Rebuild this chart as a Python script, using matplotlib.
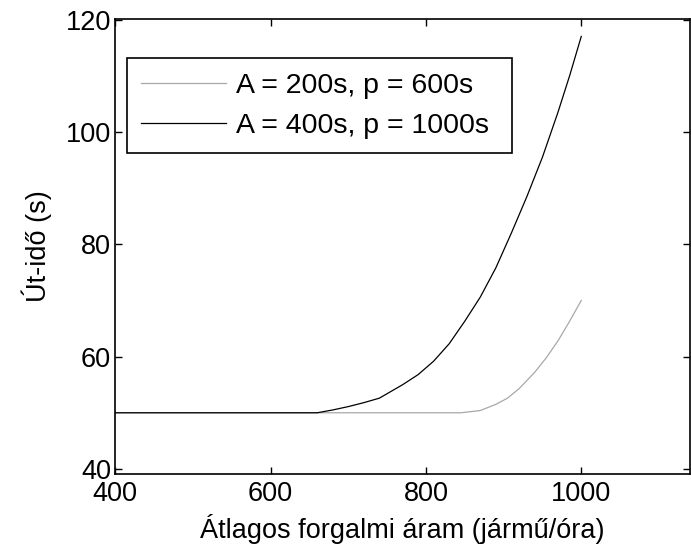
import matplotlib.pyplot as plt

plt.rcParams['font.family'] = ['Liberation Sans', 'DejaVu Sans']

# A = 200s, p = 600s (szürke)
x_200 = [400, 845, 870, 890, 905, 920, 940, 955, 970, 985, 1000]
y_200 = [50, 50, 50.4, 51.5, 52.6, 54.3, 57.2, 59.8, 62.8, 66.3, 70.0]

# A = 400s, p = 1000s (fekete)
x_400 = [400, 660, 680, 700, 720, 740, 770, 790, 810, 830, 850, 870, 890,
         910, 930, 950, 970, 985, 1000]
y_400 = [50, 50, 50.5, 51.1, 51.8, 52.6, 55.0, 56.8, 59.2, 62.3, 66.3, 70.6,
         75.8, 82.0, 88.5, 95.5, 103.5, 110.0, 117.0]

labels = ['A = 200s, p = 600s', 'A = 400s, p = 1000s']
xticks = [400, 600, 800, 1000]
yticks = [40, 60, 80, 100, 120]

fs = 19.5

fig = plt.figure(figsize=(6.91, 5.54), dpi=100)
ax = fig.add_axes([115.3 / 691, 1 - 474 / 554, (690 - 115.3) / 691, (474 - 19) / 554])

ax.plot(x_200, y_200, color='#a8a8a8', lw=0.9, label=labels[0])
ax.plot(x_400, y_400, color='black', lw=0.9, label=labels[1])

ax.set_xlim(400, 1140)
ax.set_ylim(39.1, 120.1)
ax.set_xticks(xticks)
ax.set_yticks(yticks)
ax.tick_params(direction='in', length=5, width=1, top=True, right=True,
               labelsize=fs, pad=3)
ax.tick_params(axis='x', pad=5)
for s in ax.spines.values():
    s.set_linewidth(1.2)

ax.set_xlabel('Átlagos forgalmi áram (jármű/óra)', fontsize=fs, labelpad=5)
ax.set_ylabel('Út-idő (s)', fontsize=fs, labelpad=10)

leg = ax.legend(loc='upper left', bbox_to_anchor=(0.0198, 0.714, 0.670, 0.1996),
                mode='expand', borderaxespad=0, fontsize=20.5, handlelength=3.0,
                handletextpad=0.35, borderpad=0.5, labelspacing=0.5,
                fancybox=False, framealpha=1)
leg.get_frame().set_edgecolor('black')
leg.get_frame().set_linewidth(1.2)

fig.savefig('out.png', dpi=100)
